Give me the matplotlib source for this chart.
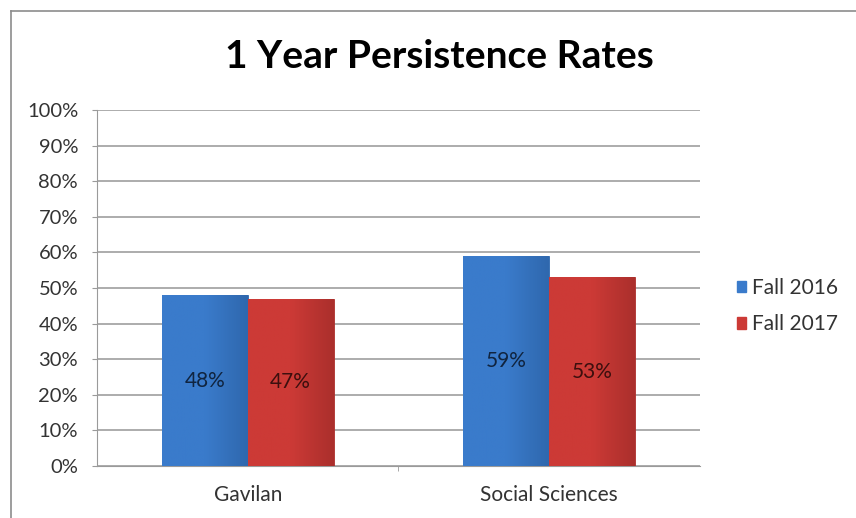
import numpy as np
import matplotlib.pyplot as plt
from matplotlib.patches import Rectangle
from matplotlib.lines import Line2D
from matplotlib.colors import LinearSegmentedColormap

# Data
categories = ['Gavilan', 'Social Sciences']
series_names = ['Fall 2016', 'Fall 2017']
fall_2016 = [48, 59]
fall_2017 = [47, 53]
colors = ['#3a7bcb', '#cc3a36']
dark_colors = ['#2f68ae', '#ab2f2c']
label_colors = ['#10243f', '#3d0f0e']

plt.rcParams['font.family'] = ['Lato', 'DejaVu Sans']

fig = plt.figure(figsize=(8.56, 5.18), dpi=100)

# chart border (left and top edges visible)
fig.add_artist(Line2D([11/856, 11/856], [0, 1 - 11/518], color='#8c8c8c', lw=1.2,
                      transform=fig.transFigure))
fig.add_artist(Line2D([11/856, 1], [1 - 11/518, 1 - 11/518], color='#8c8c8c', lw=1.2,
                      transform=fig.transFigure))

ax = fig.add_axes([97/856, 1 - 466/518, (700 - 97)/856, (466 - 110)/518])

x = np.arange(len(categories))
w = 0.285
bars1 = ax.bar(x - w/2, fall_2016, w, color=colors[0], edgecolor=dark_colors[0], lw=0.6, zorder=3)
bars2 = ax.bar(x + w/2, fall_2017, w, color=colors[1], edgecolor=dark_colors[1], lw=0.6, zorder=3)

# soft shading: darker towards the right edge of each bar
grad = np.linspace(0, 1, 64).reshape(1, -1)
for bars, i in [(bars1, 0), (bars2, 1)]:
    cmap = LinearSegmentedColormap.from_list('g', [colors[i], colors[i], dark_colors[i]])
    for b in bars:
        x0, y0, bw, bh = b.get_x(), b.get_y(), b.get_width(), b.get_height()
        im = ax.imshow(grad, cmap=cmap, aspect='auto', extent=[x0, x0 + bw, y0, y0 + bh],
                       zorder=3.5)
        im.set_clip_path(b)

for bars, vals, lc in [(bars1, fall_2016, label_colors[0]), (bars2, fall_2017, label_colors[1])]:
    for b, v in zip(bars, vals):
        ax.text(b.get_x() + b.get_width()/2, v/2, f'{v}%', ha='center', va='center',
                fontsize=15, color=lc, zorder=4)

ax.set_xlim(-0.5, 1.5)
ax.set_ylim(0, 100)
ax.set_yticks(np.arange(0, 101, 10))
ax.set_yticklabels([f'{t}%' for t in range(0, 101, 10)])
ax.set_xticks([0.5], minor=True)
ax.set_xticks(x)
ax.set_xticklabels(categories)
ax.tick_params(axis='x', which='major', length=0, pad=14, labelsize=15, labelcolor='#333333')
ax.tick_params(axis='x', which='minor', length=3.6, color='#9a9a9a')
ax.tick_params(axis='y', length=3.6, color='#9a9a9a', labelsize=14.5, labelcolor='#333333', pad=10)
ax.yaxis.grid(True, color='#a6a6a6', lw=1.3, zorder=0)
for s in ['top', 'right']:
    ax.spines[s].set_visible(False)
ax.spines['left'].set_color('#9a9a9a')
ax.spines['bottom'].set_color('#9a9a9a')

fig.text(439/856, 1 - 57/518, '1 Year Persistence Rates', ha='center', va='center',
         fontsize=28, fontweight='bold', color='#000000')

handles = [Rectangle((0, 0), 1, 1, color=c) for c in colors]
fig.legend(handles, series_names, loc='center left', bbox_to_anchor=(737/856, 1 - 306/518),
           frameon=False, fontsize=15, handlelength=0.45, handleheight=0.45,
           handletextpad=0.25, labelspacing=0.8, labelcolor='#333333',
           borderaxespad=0, borderpad=0)

fig.savefig('out.png', dpi=100)
